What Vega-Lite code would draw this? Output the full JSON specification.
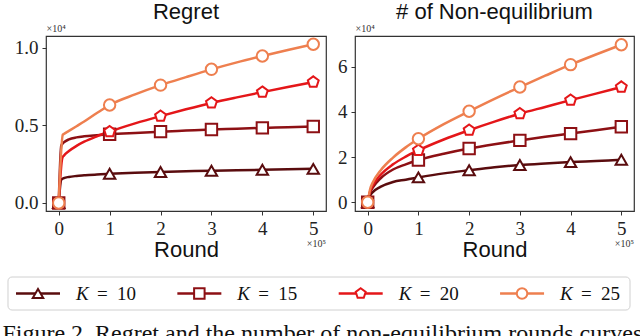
{
 "$schema": "https://vega.github.io/schema/vega-lite/v6.json",
 "padding": {"left": 2, "top": 0, "right": 0, "bottom": 0},
 "background": "white",
 "title": {"text": "Figure 2. Regret and the number of non-equilibrium rounds curves", "orient": "bottom", "anchor": "start", "frame": "bounds", "font": "Liberation Serif", "fontSize": 24, "fontWeight": "normal", "color": "#111", "offset": 11, "baseline": "top"},
 "datasets": {
  "curves": [
   {"p":"R","K":10,"x":0,"y":0},{"p":"R","K":10,"x":0.05,"y":0.15},{"p":"R","K":10,"x":0.1,"y":0.16},{"p":"R","K":10,"x":0.2,"y":0.168},{"p":"R","K":10,"x":0.35,"y":0.174},{"p":"R","K":10,"x":0.5,"y":0.178},{"p":"R","K":10,"x":0.75,"y":0.184},{"p":"R","K":10,"x":1,"y":0.188},{"p":"R","K":10,"x":1.5,"y":0.195},{"p":"R","K":10,"x":2,"y":0.2},{"p":"R","K":10,"x":2.5,"y":0.204},{"p":"R","K":10,"x":3,"y":0.208},{"p":"R","K":10,"x":3.5,"y":0.211},{"p":"R","K":10,"x":4,"y":0.214},{"p":"R","K":10,"x":4.5,"y":0.217},{"p":"R","K":10,"x":5,"y":0.22},
   {"p":"R","K":15,"x":0,"y":0},{"p":"R","K":15,"x":0.05,"y":0.37},{"p":"R","K":15,"x":0.1,"y":0.39},{"p":"R","K":15,"x":0.2,"y":0.41},{"p":"R","K":15,"x":0.35,"y":0.423},{"p":"R","K":15,"x":0.5,"y":0.43},{"p":"R","K":15,"x":0.75,"y":0.437},{"p":"R","K":15,"x":1,"y":0.443},{"p":"R","K":15,"x":1.5,"y":0.452},{"p":"R","K":15,"x":2,"y":0.46},{"p":"R","K":15,"x":2.5,"y":0.467},{"p":"R","K":15,"x":3,"y":0.474},{"p":"R","K":15,"x":3.5,"y":0.479},{"p":"R","K":15,"x":4,"y":0.484},{"p":"R","K":15,"x":4.5,"y":0.489},{"p":"R","K":15,"x":5,"y":0.493},
   {"p":"R","K":20,"x":0,"y":0},{"p":"R","K":20,"x":0.07,"y":0.29},{"p":"R","K":20,"x":0.1,"y":0.305},{"p":"R","K":20,"x":0.2,"y":0.335},{"p":"R","K":20,"x":0.35,"y":0.368},{"p":"R","K":20,"x":0.5,"y":0.395},{"p":"R","K":20,"x":0.75,"y":0.43},{"p":"R","K":20,"x":1,"y":0.46},{"p":"R","K":20,"x":1.5,"y":0.513},{"p":"R","K":20,"x":2,"y":0.56},{"p":"R","K":20,"x":2.5,"y":0.604},{"p":"R","K":20,"x":3,"y":0.645},{"p":"R","K":20,"x":3.5,"y":0.681},{"p":"R","K":20,"x":4,"y":0.715},{"p":"R","K":20,"x":4.5,"y":0.748},{"p":"R","K":20,"x":5,"y":0.78},
   {"p":"R","K":25,"x":0,"y":0},{"p":"R","K":25,"x":0.08,"y":0.44},{"p":"R","K":25,"x":0.1,"y":0.445},{"p":"R","K":25,"x":0.2,"y":0.465},{"p":"R","K":25,"x":0.35,"y":0.495},{"p":"R","K":25,"x":0.5,"y":0.525},{"p":"R","K":25,"x":0.75,"y":0.58},{"p":"R","K":25,"x":1,"y":0.632},{"p":"R","K":25,"x":1.5,"y":0.7},{"p":"R","K":25,"x":2,"y":0.76},{"p":"R","K":25,"x":2.5,"y":0.812},{"p":"R","K":25,"x":3,"y":0.862},{"p":"R","K":25,"x":3.5,"y":0.907},{"p":"R","K":25,"x":4,"y":0.948},{"p":"R","K":25,"x":4.5,"y":0.987},{"p":"R","K":25,"x":5,"y":1.024},
   {"p":"N","K":10,"x":0,"y":0},{"p":"N","K":10,"x":0.05,"y":0.3},{"p":"N","K":10,"x":0.1,"y":0.45},{"p":"N","K":10,"x":0.25,"y":0.68},{"p":"N","K":10,"x":0.5,"y":0.9},{"p":"N","K":10,"x":0.75,"y":1.0},{"p":"N","K":10,"x":1,"y":1.1},{"p":"N","K":10,"x":1.5,"y":1.28},{"p":"N","K":10,"x":2,"y":1.42},{"p":"N","K":10,"x":2.5,"y":1.55},{"p":"N","K":10,"x":3,"y":1.65},{"p":"N","K":10,"x":3.5,"y":1.72},{"p":"N","K":10,"x":4,"y":1.78},{"p":"N","K":10,"x":4.5,"y":1.83},{"p":"N","K":10,"x":5,"y":1.88},
   {"p":"N","K":15,"x":0,"y":0},{"p":"N","K":15,"x":0.05,"y":0.45},{"p":"N","K":15,"x":0.1,"y":0.65},{"p":"N","K":15,"x":0.25,"y":1.05},{"p":"N","K":15,"x":0.5,"y":1.45},{"p":"N","K":15,"x":0.75,"y":1.68},{"p":"N","K":15,"x":1,"y":1.87},{"p":"N","K":15,"x":1.5,"y":2.15},{"p":"N","K":15,"x":2,"y":2.38},{"p":"N","K":15,"x":2.5,"y":2.57},{"p":"N","K":15,"x":3,"y":2.74},{"p":"N","K":15,"x":3.5,"y":2.9},{"p":"N","K":15,"x":4,"y":3.04},{"p":"N","K":15,"x":4.5,"y":3.19},{"p":"N","K":15,"x":5,"y":3.34},
   {"p":"N","K":20,"x":0,"y":0},{"p":"N","K":20,"x":0.05,"y":0.5},{"p":"N","K":20,"x":0.1,"y":0.75},{"p":"N","K":20,"x":0.25,"y":1.2},{"p":"N","K":20,"x":0.5,"y":1.68},{"p":"N","K":20,"x":0.75,"y":2.02},{"p":"N","K":20,"x":1,"y":2.3},{"p":"N","K":20,"x":1.5,"y":2.78},{"p":"N","K":20,"x":2,"y":3.19},{"p":"N","K":20,"x":2.5,"y":3.57},{"p":"N","K":20,"x":3,"y":3.92},{"p":"N","K":20,"x":3.5,"y":4.22},{"p":"N","K":20,"x":4,"y":4.52},{"p":"N","K":20,"x":4.5,"y":4.81},{"p":"N","K":20,"x":5,"y":5.1},
   {"p":"N","K":25,"x":0,"y":0},{"p":"N","K":25,"x":0.05,"y":0.6},{"p":"N","K":25,"x":0.1,"y":0.88},{"p":"N","K":25,"x":0.25,"y":1.4},{"p":"N","K":25,"x":0.5,"y":1.98},{"p":"N","K":25,"x":0.75,"y":2.43},{"p":"N","K":25,"x":1,"y":2.81},{"p":"N","K":25,"x":1.5,"y":3.46},{"p":"N","K":25,"x":2,"y":4.03},{"p":"N","K":25,"x":2.5,"y":4.58},{"p":"N","K":25,"x":3,"y":5.1},{"p":"N","K":25,"x":3.5,"y":5.6},{"p":"N","K":25,"x":4,"y":6.09},{"p":"N","K":25,"x":4.5,"y":6.54},{"p":"N","K":25,"x":5,"y":6.97}
  ],
  "keys": [{"K":10},{"K":15},{"K":20},{"K":25}]
 },
 "config": {
  "view": {"stroke": "#333", "strokeWidth": 1.2},
  "axis": {"grid": false, "domain": false, "tickColor": "#333", "tickSize": 4, "tickWidth": 1, "labelFont": "Liberation Serif", "labelFontSize": 19, "labelColor": "#222", "labelPadding": 4, "titleFont": "Liberation Sans", "titleFontWeight": "normal", "titleColor": "#111"},
  "title": {"font": "Liberation Sans", "fontSize": 22, "fontWeight": "normal", "color": "#111"}
 },
 "spacing": 15,
 "vconcat": [
  {
   "spacing": 9,
   "hconcat": [
    {
     "width": 280, "height": 175,
     "title": {"text": "Regret", "baseline": "alphabetic", "frame": "group", "offset": -18},
     "layer": [
      {
       "data": {"name": "curves"},
       "transform": [{"filter": "datum.p == 'R'"}],
       "mark": {"type": "line", "strokeWidth": 2.5, "interpolate": "monotone"},
       "encoding": {
        "x": {"field": "x", "type": "quantitative", "scale": {"domain": [-0.25, 5.25], "nice": false, "zero": false}, "axis": {"values": [0,1,2,3,4,5], "format": "d", "title": "Round", "titleFontSize": 22, "titlePadding": 1}},
        "y": {"field": "y", "type": "quantitative", "scale": {"domain": [-0.052, 1.077], "nice": false, "zero": false}, "axis": {"values": [0,0.5,1], "format": ".1f", "title": "×10⁴", "titleAngle": 0, "titleX": 0, "titleY": -3, "titleAlign": "left", "titleBaseline": "bottom", "titleFont": "Liberation Serif", "titleFontSize": 10, "titleColor": "#333", "minExtent": 43}},
        "color": {"field": "K", "type": "nominal", "scale": {"domain": [10,15,20,25], "range": ["#5a0c0e", "#8d1014", "#e41619", "#ee7f4f"]}, "legend": null}
       }
      },
      {
       "data": {"name": "curves"},
       "transform": [{"filter": "datum.p == 'R' && datum.x == floor(datum.x)"}],
       "mark": {"type": "point", "filled": false, "fill": "white", "fillOpacity": 1, "opacity": 1, "strokeWidth": 2, "size": 130},
       "encoding": {
        "x": {"field": "x", "type": "quantitative"},
        "y": {"field": "y", "type": "quantitative"},
        "color": {"field": "K", "type": "nominal", "scale": {"domain": [10,15,20,25], "range": ["#5a0c0e", "#8d1014", "#e41619", "#ee7f4f"]}, "legend": null},
        "shape": {"field": "K", "type": "nominal", "scale": {"domain": [10,15,20,25], "range": ["triangle-up", "square", "M0,-1L0.951,-0.309L0.588,0.809L-0.588,0.809L-0.951,-0.309Z", "circle"]}, "legend": null}
       }
      },
      {
       "data": {"values": [{"t": "×10⁵"}]},
       "mark": {"type": "text", "align": "right", "baseline": "middle", "font": "Liberation Serif", "fontSize": 10, "color": "#333"},
       "encoding": {
        "x": {"datum": 5.25, "type": "quantitative"},
        "y": {"datum": -0.265, "type": "quantitative"},
        "text": {"field": "t"}
       }
      }
     ]
    },
    {
     "width": 279, "height": 175,
     "title": {"text": "# of Non-equilibrium", "baseline": "alphabetic", "frame": "group", "offset": -18},
     "layer": [
      {
       "data": {"name": "curves"},
       "transform": [{"filter": "datum.p == 'N'"}],
       "mark": {"type": "line", "strokeWidth": 2.5, "interpolate": "monotone"},
       "encoding": {
        "x": {"field": "x", "type": "quantitative", "scale": {"domain": [-0.25, 5.25], "nice": false, "zero": false}, "axis": {"values": [0,1,2,3,4,5], "format": "d", "title": "Round", "titleFontSize": 22, "titlePadding": 1}},
        "y": {"field": "y", "type": "quantitative", "scale": {"domain": [-0.385, 7.358], "nice": false, "zero": false}, "axis": {"values": [0,2,4,6], "format": "d", "title": "×10⁴", "titleAngle": 0, "titleX": 0, "titleY": -3, "titleAlign": "left", "titleBaseline": "bottom", "titleFont": "Liberation Serif", "titleFontSize": 10, "titleColor": "#333", "minExtent": 18}},
        "color": {"field": "K", "type": "nominal", "scale": {"domain": [10,15,20,25], "range": ["#5a0c0e", "#8d1014", "#e41619", "#ee7f4f"]}, "legend": null}
       }
      },
      {
       "data": {"name": "curves"},
       "transform": [{"filter": "datum.p == 'N' && datum.x == floor(datum.x)"}],
       "mark": {"type": "point", "filled": false, "fill": "white", "fillOpacity": 1, "opacity": 1, "strokeWidth": 2, "size": 130},
       "encoding": {
        "x": {"field": "x", "type": "quantitative"},
        "y": {"field": "y", "type": "quantitative"},
        "color": {"field": "K", "type": "nominal", "scale": {"domain": [10,15,20,25], "range": ["#5a0c0e", "#8d1014", "#e41619", "#ee7f4f"]}, "legend": null},
        "shape": {"field": "K", "type": "nominal", "scale": {"domain": [10,15,20,25], "range": ["triangle-up", "square", "M0,-1L0.951,-0.309L0.588,0.809L-0.588,0.809L-0.951,-0.309Z", "circle"]}, "legend": null}
       }
      },
      {
       "data": {"values": [{"t": "×10⁵"}]},
       "mark": {"type": "text", "align": "right", "baseline": "middle", "font": "Liberation Serif", "fontSize": 10, "color": "#333"},
       "encoding": {
        "x": {"datum": 5.25, "type": "quantitative"},
        "y": {"datum": -1.845, "type": "quantitative"},
        "text": {"field": "t"}
       }
      }
     ]
    }
   ]
  },
  {
   "width": 584, "height": 33,
   "view": {"stroke": null},
   "layer": [
    {
     "data": {"values": [{"box": 1}]},
     "mark": {"type": "rect", "fill": null, "stroke": "#d0d0d0", "strokeWidth": 1, "cornerRadius": 4},
     "encoding": {
      "x": {"datum": 9.07, "type": "quantitative", "scale": {"domain": [10.248, 28.345], "nice": false, "zero": false}, "axis": null},
      "x2": {"datum": 28.345}
     }
    },
    {
     "data": {"name": "keys"},
     "mark": {"type": "point", "shape": "stroke", "size": 1936, "strokeWidth": 2.5, "filled": false, "opacity": 1},
     "encoding": {
      "x": {"field": "K", "type": "quantitative"},
      "color": {"field": "K", "type": "nominal", "scale": {"domain": [10,15,20,25], "range": ["#5a0c0e", "#8d1014", "#e41619", "#ee7f4f"]}, "legend": null}
     }
    },
    {
     "data": {"name": "keys"},
     "mark": {"type": "point", "filled": false, "fill": "white", "fillOpacity": 1, "opacity": 1, "strokeWidth": 2, "size": 110},
     "encoding": {
      "x": {"field": "K", "type": "quantitative"},
      "color": {"field": "K", "type": "nominal", "scale": {"domain": [10,15,20,25], "range": ["#5a0c0e", "#8d1014", "#e41619", "#ee7f4f"]}, "legend": null},
      "shape": {"field": "K", "type": "nominal", "scale": {"domain": [10,15,20,25], "range": ["triangle-up", "square", "M0,-1L0.951,-0.309L0.588,0.809L-0.588,0.809L-0.951,-0.309Z", "circle"]}, "legend": null}
     }
    },
    {
     "data": {"name": "keys"},
     "mark": {"type": "text", "dx": 38, "align": "left", "baseline": "middle", "font": "Liberation Serif", "fontStyle": "italic", "fontSize": 19, "color": "#111"},
     "encoding": {"x": {"field": "K", "type": "quantitative"}, "text": {"value": "K"}}
    },
    {
     "data": {"name": "keys"},
     "mark": {"type": "text", "dx": 59, "align": "left", "baseline": "middle", "font": "Liberation Serif", "fontSize": 19, "color": "#111"},
     "encoding": {"x": {"field": "K", "type": "quantitative"}, "text": {"value": "="}}
    },
    {
     "data": {"name": "keys"},
     "mark": {"type": "text", "dx": 79, "align": "left", "baseline": "middle", "font": "Liberation Serif", "fontSize": 19, "color": "#111"},
     "encoding": {"x": {"field": "K", "type": "quantitative"}, "text": {"field": "K", "type": "nominal"}}
    }
   ]
  }
 ]
}
